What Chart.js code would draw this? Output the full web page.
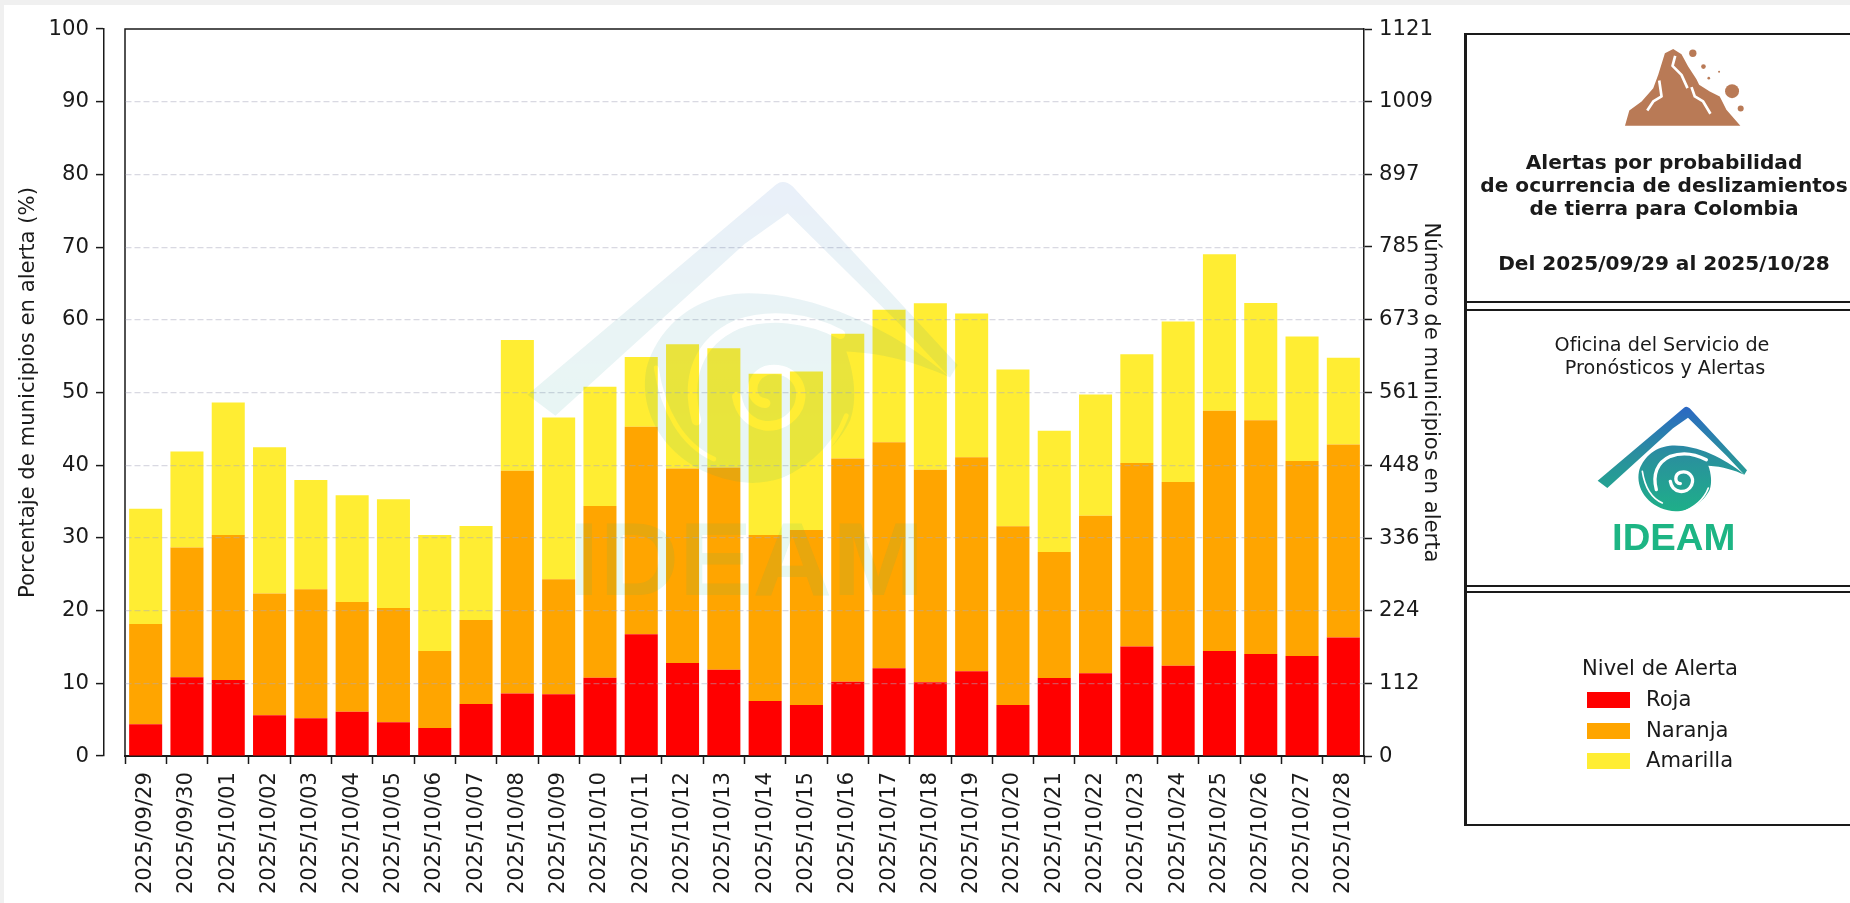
<!DOCTYPE html>
<html lang="es">
<head>
<meta charset="utf-8">
<title>Alertas por probabilidad de ocurrencia de deslizamientos</title>
<script src="https://cdn.jsdelivr.net/npm/chart.js@4"></script>
<style>
  html, body { margin: 0; height: 100%; background: #f0f0f0; overflow: hidden; }
  body { font-family: "DejaVu Sans", sans-serif; color: #1a1a1a; }
  #page { position: absolute; left: 4px; top: 5px; right: 0; bottom: 0; background: #fff; }
  #chart { position: absolute; left: 0; top: 0; }
  svg { position: absolute; overflow: visible; }
  #watermark { left: 514px; top: 170.5px; width: 461px; height: 432px; opacity: 0.1; pointer-events: none; }
  #icon { left: 1620px; top: 43px; width: 133px; height: 87px; }
  #logo { left: 1593px; top: 403px; width: 160px; height: 150px; }

  .rule { position: absolute; left: 1464px; right: 0; height: 2px; background: #1a1a1a; }
  #panel-left { position: absolute; left: 1464px; top: 33px; width: 2.5px; height: 793px; background: #1a1a1a; }
  .txt { position: absolute; left: 1464px; width: 400px; text-align: center; white-space: pre; }
  #title { top: 150.5px; font-size: 20.1px; font-weight: bold; line-height: 23px; }
  #dates { top: 252px; font-size: 20.1px; font-weight: bold; line-height: 23px; }
  #office { left: 1462px; top: 334px; font-size: 19.2px; line-height: 22.5px; }

  #legend-title { position: absolute; left: 1582px; top: 655px; font-size: 21.1px; line-height: 26px; }
  .swatch { position: absolute; left: 1587px; width: 43px; height: 16px; }
  .lab { position: absolute; left: 1646px; font-size: 21.1px; line-height: 26px; }
</style>
</head>
<body>
<div id="page"></div>
<canvas id="chart" width="1850" height="903"></canvas>

<!-- logo shapes, units are arbitrary -->
<svg width="0" height="0" style="left:0;top:0">
  <defs>
    <linearGradient id="logoGrad" gradientUnits="userSpaceOnUse" x1="0" y1="322" x2="0" y2="640">
      <stop offset="0" stop-color="#2b68c4"/>
      <stop offset="0.45" stop-color="#2a8f9e"/>
      <stop offset="1" stop-color="#1eb088"/>
    </linearGradient>
    <mask id="swirlCut" maskUnits="userSpaceOnUse" x="460" y="310" width="480" height="450">
      <rect x="460" y="310" width="480" height="450" fill="#fff"/>
      <g fill="none" stroke="#000" stroke-linecap="round">
        <path d="M650 570 C638 525 652 488 692 470 C725 458 765 462 800 480" stroke-width="10"/>
        <path d="M608 515 C615 560 635 595 668 610" stroke-width="5"/>
        <path d="M722 640 C762 625 792 603 806 565" stroke-width="5"/>
        <path d="M692 545 C698 582 742 585 756 556 C766 530 745 512 722 518 C704 525 704 550 722 552" stroke-width="10"/>
      </g>
    </mask>
    <symbol id="ideam" viewBox="460 310 480 450">
      <path fill="url(#logoGrad)" d="M474 543 L733 324 Q741 318 750 326 L922 512 L914 525 L862 470 L745 354 L700 386 L503 565 Z"/>
      <path fill="url(#logoGrad)" mask="url(#swirlCut)" d="M914 525 C850 470 760 432 690 438 C640 444 608 478 598 515 C588 565 622 618 685 632 C735 645 790 612 810 570 C818 548 814 520 806 498 C850 500 885 512 914 525 Z"/>
      <text x="517" y="752" font-family="'Liberation Sans', sans-serif" font-weight="bold" font-size="108" fill="#1db584" textLength="370" lengthAdjust="spacingAndGlyphs">IDEAM</text>
    </symbol>
  </defs>
</svg>

<svg id="watermark"><use href="#ideam" width="100%" height="100%"/></svg>

<div id="panel-left"></div>
<div class="rule" style="top:33px"></div>
<div class="rule" style="top:301px"></div>
<div class="rule" style="top:309px"></div>
<div class="rule" style="top:585px"></div>
<div class="rule" style="top:591px"></div>
<div class="rule" style="top:824px"></div>

<svg id="icon" viewBox="540 130 400 260">
  <path fill="#b97a56" d="M555 378 L568 332 L605 305 L640 265 L655 225 L675 160 L700 147 L725 163 L745 200 L770 238 L778 255 L810 275 L840 290 L860 330 L902 378 Z"/>
  <g fill="none" stroke="#fff" stroke-width="8" stroke-linejoin="round">
    <path d="M706 168 L698 198 L725 225 L743 265"/>
    <path d="M658 242 L665 290 L640 305 L622 332"/>
    <path d="M755 262 L765 290 L790 305 L812 342"/>
  </g>
  <g fill="#b97a56">
    <circle cx="759" cy="160" r="11"/>
    <circle cx="791" cy="200" r="7"/>
    <circle cx="838" cy="216" r="3"/>
    <circle cx="807" cy="235" r="4"/>
    <circle cx="877" cy="274" r="21"/>
    <circle cx="903" cy="326" r="9"/>
  </g>
</svg>
<div id="title" class="txt">Alertas por probabilidad
de ocurrencia de deslizamientos
de tierra para Colombia</div>
<div id="dates" class="txt">Del 2025/09/29 al 2025/10/28</div>
<div id="office" class="txt">Oficina del Servicio de
 Pronósticos y Alertas</div>
<svg id="logo"><use href="#ideam" width="100%" height="100%"/></svg>
<div id="legend-title">Nivel de Alerta</div>
<div id="legend"></div>

<script>
const dates = ["2025/09/29", "2025/09/30", "2025/10/01", "2025/10/02", "2025/10/03", "2025/10/04", "2025/10/05", "2025/10/06", "2025/10/07", "2025/10/08", "2025/10/09", "2025/10/10", "2025/10/11", "2025/10/12", "2025/10/13", "2025/10/14", "2025/10/15", "2025/10/16", "2025/10/17", "2025/10/18", "2025/10/19", "2025/10/20", "2025/10/21", "2025/10/22", "2025/10/23", "2025/10/24", "2025/10/25", "2025/10/26", "2025/10/27", "2025/10/28"];

// percentages
const roja = [4.36, 10.83, 10.46, 5.6, 5.18, 6.1, 4.63, 3.85, 7.16, 8.58, 8.49, 10.78, 16.74, 12.8, 11.88, 7.57, 7.02, 10.23, 12.06, 10.13, 11.66, 7.02, 10.73, 11.38, 15.06, 12.41, 14.45, 14.03, 13.75, 16.31];
const naranja = [13.81, 17.84, 19.95, 16.74, 17.76, 15.09, 15.74, 10.6, 11.56, 30.65, 15.81, 23.62, 28.54, 26.74, 27.8, 22.84, 24.08, 30.69, 31.11, 29.23, 29.42, 24.58, 17.34, 21.66, 25.23, 25.28, 33.04, 32.16, 26.82, 26.53];
const amarilla = [15.83, 13.21, 18.21, 20.14, 15.04, 14.68, 14.95, 15.96, 12.93, 18.0, 22.26, 16.38, 9.62, 17.11, 16.42, 22.16, 21.79, 17.15, 18.21, 22.91, 19.79, 21.56, 16.68, 16.68, 14.96, 22.07, 21.51, 16.12, 17.14, 11.95];

const rightTicks = [0, 112, 224, 336, 448, 561, 673, 785, 897, 1009, 1121];

const ink = "#1a1a1a";
Chart.defaults.font.family = "'DejaVu Sans', sans-serif";
Chart.defaults.font.size = 21.2;
Chart.defaults.color = ink;

// the left axis sits apart from the plot frame
const detachLeftAxis = {
  id: "detachLeftAxis",
  afterLayout: function (chart) {
    chart.scales.y.right -= 21;
  }
};

// top and left sides of the plot frame
const plotFrame = {
  id: "plotFrame",
  afterDatasetsDraw: function (chart) {
    const a = chart.chartArea;
    const ctx = chart.ctx;
    ctx.save();
    ctx.strokeStyle = ink;
    ctx.lineWidth = 1.5;
    ctx.beginPath();
    ctx.moveTo(a.left, a.bottom);
    ctx.lineTo(a.left, a.top);
    ctx.lineTo(a.right, a.top);
    ctx.stroke();
    ctx.restore();
  }
};

const data = {
  labels: dates,
  datasets: [
    { label: "Roja", data: roja, backgroundColor: "#ff0000" },
    { label: "Naranja", data: naranja, backgroundColor: "#ffa500" },
    { label: "Amarilla", data: amarilla, backgroundColor: "#ffed33" }
  ]
};

const chart = new Chart(document.getElementById("chart"), {
  type: "bar",
  data: data,
  plugins: [detachLeftAxis, plotFrame],
  options: {
    responsive: false,
    animation: false,
    events: [],
    layout: { padding: { left: 0, top: 29, right: 405, bottom: 0 } },
    datasets: { bar: { barPercentage: 0.8, categoryPercentage: 1, borderWidth: 0 } },
    plugins: { legend: { display: false }, tooltip: { enabled: false } },
    scales: {
      x: {
        stacked: true,
        afterFit: function (axis) { axis.height = 147; },
        grid: { drawOnChartArea: false, tickLength: 8, tickColor: ink, tickWidth: 1.5 },
        border: { color: ink, width: 2 },
        ticks: { autoSkip: false, minRotation: 90, maxRotation: 90, padding: 8 }
      },
      y: {
        stacked: true,
        min: 0,
        max: 100,
        afterFit: function (axis) { axis.width = 125; },
        title: { display: true, text: "Porcentaje de municipios en alerta (%)", padding: { top: 16, bottom: 0 } },
        grid: {
          z: 1,
          color: function (ctx) {
            const v = ctx.tick ? ctx.tick.value : 0;
            return v === 0 || v === 100 ? "transparent" : "rgba(170,170,190,0.45)";
          },
          lineWidth: 1.2,
          tickLength: 8,
          tickColor: ink,
          tickWidth: 1.5
        },
        // border has to come after the grid, its position is worked out there
        border: { z: 1, color: ink, width: 1.5, dash: [6, 3] },
        ticks: { stepSize: 10, padding: 7 }
      },
      y2: {
        position: "right",
        min: 0,
        max: 1121,
        afterBuildTicks: function (axis) {
          axis.ticks = rightTicks.map(function (v) { return { value: v }; });
        },
        afterFit: function (axis) { axis.width = 81; },
        title: { display: true, text: "Número de municipios en alerta", padding: { top: 2, bottom: 0 } },
        grid: { drawOnChartArea: false, tickLength: 8, tickColor: ink, tickWidth: 1.5 },
        border: { color: ink, width: 1.5 },
        ticks: {
          autoSkip: false,
          padding: 7,
          callback: function (value) { return String(value); }
        }
      }
    }
  }
});

// legend rows come from the chart's own datasets
const swatchTops = [692, 723, 753];
const legend = document.getElementById("legend");
chart.data.datasets.forEach(function (ds, i) {
  const sw = document.createElement("div");
  sw.className = "swatch";
  sw.style.top = swatchTops[i] + "px";
  sw.style.background = ds.backgroundColor;
  legend.appendChild(sw);

  const lab = document.createElement("div");
  lab.className = "lab";
  lab.style.top = (swatchTops[i] - 6) + "px";
  lab.textContent = ds.label;
  legend.appendChild(lab);
});
</script>
</body>
</html>
